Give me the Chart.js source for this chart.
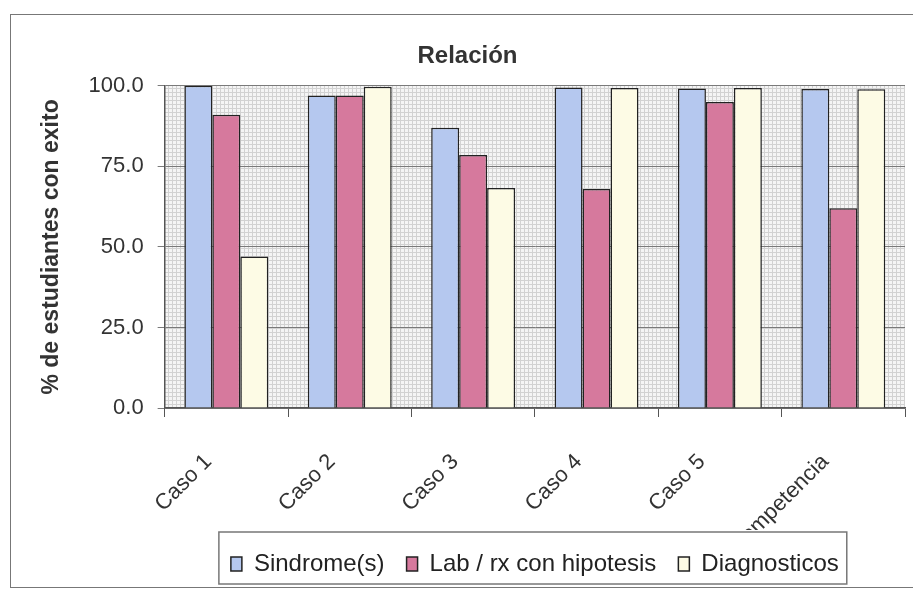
<!DOCTYPE html>
<html>
<head>
<meta charset="utf-8">
<script src="https://cdn.jsdelivr.net/npm/chart.js@4"></script>
<style>
  body { margin: 0; background: #fff; }
  #marco { position: absolute; left: 10px; top: 14px; width: 920px; height: 572px; border: 1px solid #777; }
  #grafica { position: absolute; left: 0; top: 0; }
</style>
</head>
<body>
<div id="marco"></div>
<canvas id="grafica" width="913" height="592"></canvas>
<script>
const categorias = ['Caso 1', 'Caso 2', 'Caso 3', 'Caso 4', 'Caso 5', 'Competencia'];
const sindrome = [100.0, 97.0, 87.0, 99.5, 99.2, 99.0];
const labRx = [91.0, 97.0, 78.5, 68.0, 95.0, 62.0];
const diagnosticos = [47.0, 99.7, 68.3, 99.3, 99.3, 98.9];
const ticksY = [0, 25, 50, 75, 100];

Chart.defaults.font.family = "'Liberation Sans', Arial, sans-serif";

// fondo punteado del area de trazado
function hacerTrama() {
    const c = document.createElement('canvas');
    c.width = 4; c.height = 4;
    const g = c.getContext('2d');
    g.fillStyle = '#f5f5f5';
    g.fillRect(0, 0, 4, 4);
    g.fillStyle = '#d2d2d2';
    g.fillRect(0, 0, 4, 1);
    g.fillRect(0, 0, 1, 4);
    return g.createPattern(c, 'repeat');
}

const fondo = {
    id: 'fondo',
    beforeDraw(chart) {
        const a = chart.chartArea;
        const ctx = chart.ctx;
        ctx.save();
        ctx.fillStyle = hacerTrama();
        ctx.fillRect(a.left, a.top, a.right - a.left, a.bottom - a.top);
        ctx.restore();
    }
};

// caja blanca de la leyenda, por encima de las etiquetas del eje x (como en el original)
const marcoLeyenda = {
    id: 'marcoLeyenda',
    afterDraw(chart) {
        const lg = chart.legend;
        const hb = lg.legendHitBoxes;
        if (!hb || !hb.length) return;
        const l = Math.min(...hb.map(b => b.left)) - 12;
        const r = Math.max(...hb.map(b => b.left + b.width)) + 8;
        const ctx = chart.ctx;
        ctx.save();
        ctx.fillStyle = '#fff';
        ctx.fillRect(l, lg.top + 2, r - l, lg.bottom - lg.top - 4);
        ctx.strokeStyle = '#777';
        ctx.lineWidth = 1.5;
        ctx.strokeRect(l, lg.top + 2, r - l, lg.bottom - lg.top - 4);
        ctx.restore();
        lg.draw();
    }
};

const data = {
    labels: categorias,
    datasets: [
        { label: 'Sindrome(s)', data: sindrome, backgroundColor: '#b5c8ef' },
        { label: 'Lab / rx con hipotesis', data: labRx, backgroundColor: '#d6799d' },
        { label: 'Diagnosticos', data: diagnosticos, backgroundColor: '#fdfbe5' }
    ].map(d => Object.assign(d, {
        borderColor: '#222',
        borderWidth: 1.5,
        borderSkipped: 'bottom',
        categoryPercentage: 0.68,
        barPercentage: 1.0
    }))
};

const config = {
    type: 'bar',
    data: data,
    plugins: [fondo, marcoLeyenda],
    options: {
        responsive: false,
        animation: false,
        layout: { padding: { top: 20, left: 30, right: 8, bottom: 6 } },
        plugins: {
            title: {
                display: true,
                text: 'Relación',
                color: '#333',
                font: { size: 24, weight: 'bold' },
                padding: { top: 22, bottom: 15 }
            },
            legend: {
                position: 'bottom',
                fullSize: false,
                labels: {
                    color: '#222',
                    font: { size: 24 },
                    boxWidth: 11,
                    boxHeight: 14,
                    padding: 22
                }
            },
            tooltip: { enabled: false }
        },
        scales: {
            x: {
                afterFit: s => { s.height = 122; },
                grid: {
                    offset: true,
                    drawOnChartArea: false,
                    drawTicks: true,
                    tickLength: 9,
                    color: '#555'
                },
                border: { color: '#555', width: 1.5 },
                ticks: {
                    color: '#333',
                    font: { size: 22 },
                    minRotation: 45,
                    maxRotation: 45,
                    padding: 32,
                    labelOffset: -18
                }
            },
            y: {
                min: 0,
                max: 100,
                afterBuildTicks: s => { s.ticks = ticksY.map(v => ({ value: v })); },
                grid: { color: '#7a7a7a', tickLength: 7, lineWidth: 1 },
                border: { color: '#555', width: 1.5 },
                ticks: {
                    color: '#333',
                    font: { size: 22 },
                    padding: 14,
                    callback: v => v.toFixed(1)
                },
                title: {
                    display: true,
                    text: '% de estudiantes con exito',
                    color: '#333',
                    font: { size: 23, weight: 'bold' },
                    padding: { top: 8, bottom: 9 }
                }
            }
        }
    }
};

const myChart = new Chart(document.getElementById('grafica'), config);
</script>
</body>
</html>
